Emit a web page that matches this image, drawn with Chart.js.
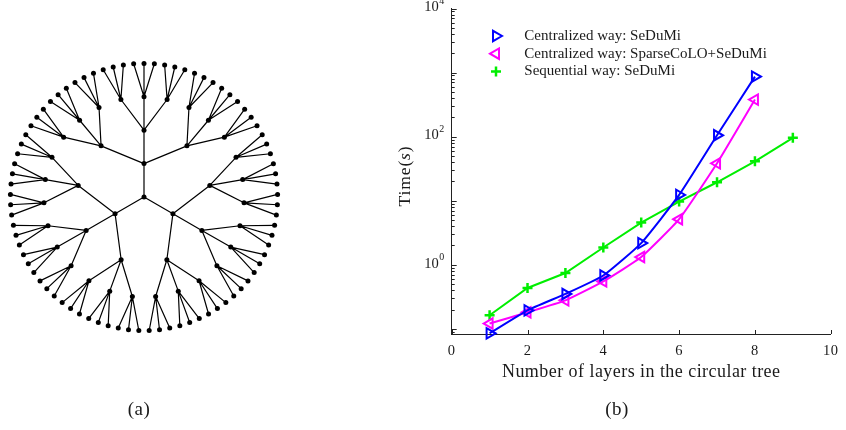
<!DOCTYPE html>
<html>
<head>
<meta charset="utf-8">
<title>Circular tree and solver time</title>
<script src="https://cdn.jsdelivr.net/npm/chart.js"></script>
<style>
    html, body {
        margin: 0;
        padding: 0;
        background: #fff;
    }

    body {
        width: 846px;
        height: 430px;
        position: relative;
        overflow: hidden;
        font-family: "Liberation Serif", serif;
        color: #1a1a1a;
    }

    #tree-box {
        position: absolute;
        left: 0;
        top: 0;
        width: 290px;
        height: 400px;
    }

    #time-box {
        position: absolute;
        left: 390px;
        top: 0;
        width: 456px;
        height: 430px;
    }

    .caption {
        position: absolute;
        top: 398px;
        width: 60px;
        text-align: center;
        font-size: 19px;
        line-height: 22px;
        letter-spacing: 0.5px;
    }
</style>
</head>
<body>
<div id="tree-box"><canvas id="tree"></canvas></div>
<div id="time-box"><canvas id="chart"></canvas></div>
<div class="caption" style="left:109px">(a)</div>
<div class="caption" style="left:587px">(b)</div>

<script>
// tree (a): each internal node has 3 children, 4 layers below the root
const branching = [3, 3, 3, 3];
const layerStep = 33.4;

// solver time (s) against the number of layers, plot (b)
const layers = [1, 2, 3, 4, 5, 6, 7, 8, 9];
const centralSeDuMi = [0.085, 0.194, 0.35, 0.68, 2.18, 12.3, 105, 865];
const centralSparse = [0.121, 0.181, 0.278, 0.55, 1.32, 5.14, 38.3, 379];
const sequentialSeDuMi = [0.163, 0.434, 0.743, 1.86, 4.55, 9.67, 19.4, 41.1, 95.8];
const seriesNames = ['Centralized way: SeDuMi', 'Centralized way: SparseCoLO+SeDuMi', 'Sequential way: SeDuMi'];
const xTicks = [0, 2, 4, 6, 8, 10];
const yLabelExps = [0, 2, 4];

const serif = '"Liberation Serif", "Times New Roman", serif';
const ink = '#1a1a1a';

// ---------- radial layout of the tree ----------
const leafCount = branching.reduce((a, b) => a * b, 1);
const nodes = [];
const edges = [];
let nextLeaf = 0;

function build(depth) {
    const node = { depth: depth };
    if (depth === branching.length) {
        node.angle = 150 - (nextLeaf + 0.5) * 360 / leafCount;
        nextLeaf++;
    } else {
        const kids = [];
        for (let i = 0; i < branching[depth]; i++) kids.push(build(depth + 1));
        node.angle = kids.reduce((s, k) => s + k.angle, 0) / kids.length;
        kids.forEach(k => edges.push([node, k]));
    }
    nodes.push(node);
    return node;
}
build(0);

function place(n) {
    const r = n.depth * layerStep;
    const t = n.angle * Math.PI / 180;
    return { x: r * Math.cos(t), y: r * Math.sin(t) };
}

// edges as one line dataset, broken by NaN points
const edgePts = [];
edges.forEach(([p, c]) => {
    edgePts.push(place(p), place(c), { x: NaN, y: NaN });
});
const nodePts = nodes.map(place);

new Chart(document.getElementById('tree'), {
    type: 'scatter',
    data: {
        datasets: [{
            data: edgePts,
            showLine: true,
            spanGaps: false,
            borderColor: '#000',
            borderWidth: 1.2,
            pointRadius: 0
        }, {
            data: nodePts,
            pointRadius: 2.5,
            backgroundColor: '#000',
            borderColor: '#000',
            borderWidth: 0
        }]
    },
    options: {
        responsive: true,
        maintainAspectRatio: false,
        animation: false,
        layout: { padding: 0, autoPadding: false },
        plugins: { legend: { display: false }, tooltip: { enabled: false } },
        scales: {
            x: { type: 'linear', display: false, min: -144, max: 146 },
            y: { type: 'linear', display: false, min: -203, max: 197 }
        }
    }
});

// ---------- timing plot ----------
function pairs(vals) {
    return vals.map((v, i) => ({ x: layers[i], y: v }));
}

// wider letter spacing for the axis title text
const spacing = {
    id: 'spacing',
    beforeDraw(chart) { chart.ctx.letterSpacing = '0.45px'; },
    afterDraw(chart) { chart.ctx.letterSpacing = '0px'; }
};

// inward tick marks, power-of-ten labels and the y title
const axisMarks = {
    id: 'axisMarks',
    afterDraw(chart) {
        const { ctx, chartArea: a, scales: { x, y } } = chart;
        ctx.save();
        ctx.letterSpacing = '0px';
        ctx.strokeStyle = '#222';
        ctx.lineWidth = 1;
        ctx.beginPath();
        for (let e = -2; e <= 4; e++) {
            for (let m = 1; m <= 9; m++) {
                const v = m * Math.pow(10, e);
                if (v < y.min * 0.9999 || v > y.max * 1.0001) continue;
                const py = Math.round(y.getPixelForValue(v)) + 0.5;
                ctx.moveTo(a.left, py);
                ctx.lineTo(a.left + (m === 1 ? 5 : 3), py);
            }
        }
        xTicks.forEach(v => {
            const px = Math.round(x.getPixelForValue(v)) + 0.5;
            ctx.moveTo(px, a.bottom);
            ctx.lineTo(px, a.bottom - 4);
        });
        ctx.stroke();

        ctx.fillStyle = ink;
        ctx.textBaseline = 'middle';
        yLabelExps.forEach(e => {
            const py = y.getPixelForValue(Math.pow(10, e));
            ctx.font = '14.5px ' + serif;
            ctx.textAlign = 'right';
            ctx.fillText('10', a.left - 13, py - 1);
            ctx.font = '10px ' + serif;
            ctx.textAlign = 'left';
            ctx.fillText(String(e), a.left - 12.5, py - 7);
        });

        // "Time(s)" with italic s, rotated
        ctx.letterSpacing = '0.9px';
        ctx.translate(15, 176);
        ctx.rotate(-Math.PI / 2);
        const up = '17.5px ' + serif;
        const it = 'italic 17.5px ' + serif;
        ctx.font = up;
        const w1 = ctx.measureText('Time(').width;
        const w3 = ctx.measureText(')').width;
        ctx.font = it;
        const w2 = ctx.measureText('s').width;
        let cx = -(w1 + w2 + w3) / 2;
        ctx.textAlign = 'left';
        ctx.font = up;
        ctx.fillText('Time(', cx, 0);
        cx += w1;
        ctx.font = it;
        ctx.fillText('s', cx, 0);
        cx += w2;
        ctx.font = up;
        ctx.fillText(')', cx, 0);
        ctx.restore();
    }
};

// legend box in the upper-left of the plot
const seriesKey = {
    id: 'seriesKey',
    afterDraw(chart) {
        const { ctx, chartArea: a } = chart;
        chart.data.datasets.forEach((ds, i) => {
            const y = a.top + 27.5 + i * 17.7;
            ctx.save();
            ctx.letterSpacing = '0px';
            ctx.strokeStyle = ds.borderColor;
            ctx.fillStyle = 'rgba(0,0,0,0)';
            ctx.lineWidth = ds.pointBorderWidth;
            Chart.helpers.drawPoint(ctx, {
                pointStyle: ds.pointStyle,
                rotation: ds.pointRotation,
                radius: ds.pointRadius,
                borderWidth: ds.pointBorderWidth
            }, a.left + 44.3, y);
            ctx.fillStyle = ink;
            ctx.font = '15px ' + serif;
            ctx.textAlign = 'left';
            ctx.textBaseline = 'middle';
            ctx.fillText(ds.label, a.left + 72.6, y);
            ctx.restore();
        });
    }
};

new Chart(document.getElementById('chart'), {
    type: 'line',
    data: {
        datasets: [{
            label: seriesNames[0],
            data: pairs(centralSeDuMi),
            borderColor: '#0000ff',
            backgroundColor: 'rgba(0,0,0,0)',
            borderWidth: 2,
            tension: 0.15,
            pointStyle: 'triangle',
            pointRotation: 90,
            pointRadius: 6,
            pointBorderWidth: 2,
            clip: false
        }, {
            label: seriesNames[1],
            data: pairs(centralSparse),
            borderColor: '#ff00ff',
            backgroundColor: 'rgba(0,0,0,0)',
            borderWidth: 2,
            tension: 0.15,
            pointStyle: 'triangle',
            pointRotation: -90,
            pointRadius: 6,
            pointBorderWidth: 2,
            clip: false
        }, {
            label: seriesNames[2],
            data: pairs(sequentialSeDuMi),
            borderColor: '#00ee00',
            backgroundColor: 'rgba(0,0,0,0)',
            borderWidth: 2,
            tension: 0,
            pointStyle: 'cross',
            pointRotation: 0,
            pointRadius: 5,
            pointBorderWidth: 2.5,
            clip: false
        }]
    },
    options: {
        responsive: true,
        maintainAspectRatio: false,
        animation: false,
        layout: { padding: { left: 0, right: 8.3, top: 8.5, bottom: 42.5 }, autoPadding: false },
        plugins: { legend: { display: false }, tooltip: { enabled: false } },
        scales: {
            x: {
                type: 'linear',
                min: 0,
                max: 10,
                afterBuildTicks: s => { s.ticks = xTicks.map(v => ({ value: v })); },
                afterFit: s => { s.height = 53.5; },
                grid: { display: false, drawTicks: false },
                border: { display: true, color: '#222', width: 1 },
                ticks: { color: ink, font: { family: serif, size: 14.5 }, padding: 8, maxRotation: 0 },
                title: {
                    display: true,
                    text: 'Number of layers in the circular tree',
                    color: ink,
                    font: { family: serif, size: 18 },
                    padding: { top: 4, bottom: 4 }
                }
            },
            y: {
                type: 'logarithmic',
                min: 0.083,
                max: 10000,
                afterFit: s => { s.width = 61.7; },
                grid: { display: false, drawTicks: false },
                border: { display: true, color: '#222', width: 1 },
                ticks: { display: false }
            }
        }
    },
    plugins: [spacing, axisMarks, seriesKey]
});
</script>
</body>
</html>
